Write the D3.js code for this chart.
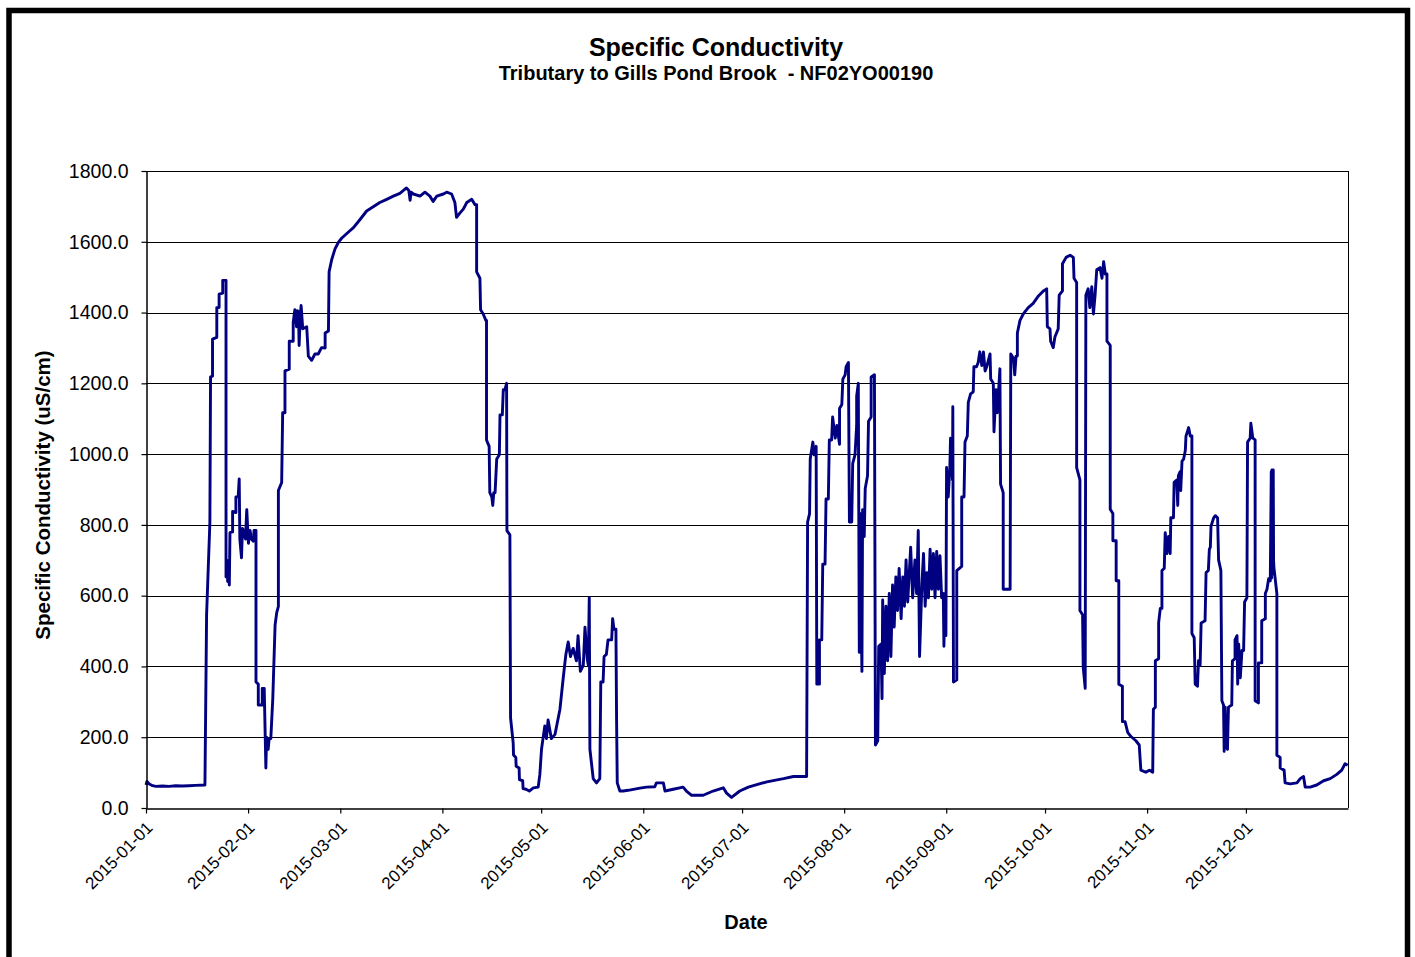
<!DOCTYPE html>
<html>
<head>
<meta charset="utf-8">
<script src="https://cdn.jsdelivr.net/npm/d3@7/dist/d3.min.js"></script>
<style>
  html, body { margin: 0; padding: 0; background: #fff; }
  svg { display: block; }
  text { font-family: "Liberation Sans", Arial, sans-serif; fill: #000; }
</style>
</head>
<body>
<svg id="chart" width="1415" height="957"></svg>
<script>
// ---------- DATA ----------
const chartTitle = "Specific Conductivity";
const chartSubtitle = "Tributary to Gills Pond Brook  - NF02YO00190";
const yAxisTitle = "Specific Conductivity (uS/cm)";
const xAxisTitle = "Date";
const yTickValues = [0, 200, 400, 600, 800, 1000, 1200, 1400, 1600, 1800];
const xTickLabels = ["2015-01-01","2015-02-01","2015-03-01","2015-04-01","2015-05-01","2015-06-01",
                     "2015-07-01","2015-08-01","2015-09-01","2015-10-01","2015-11-01","2015-12-01"];

// days elapsed since 2015-01-01 00:00 (fractional)
const dayOfYear = [
 0,0.3,1,2,3,5,7,9,11,13,15,17.9,18.4,19.4,19.6,20.2,20.2,21.5,21.5,22.2,22.2,23.3,23.3,24.3,24.3,24.6,24.8,25.0,25.3,25.5,26.3,26.3,27.3,27.3,28.0,28.3,28.5,29.0,29.3,29.6,30.2,30.6,31.1,31.6,32.0,32.6,32.8,33.4,33.4,34.1,34.1,35.3,35.3,35.9,36.4,36.6,37.1,37.4,37.9,38.5,39.2,39.7,40.2,40.2,41.2,41.5,42.2,42.2,43.5,43.5,44.7,44.7,45.2,45.7,46.0,46.3,46.5,46.8,47.1,47.6,48.8,49.3,50.3,51.3,52.3,53.3,54.4,54.4,55.4,55.6,56.4,57.4,58.4,59.4,61.4,
 63,65,67,69,71,73.1,75.1,77.1,79.1,79.8,80.2,80.5,81.2,83.2,84.7,86.2,87.2,88.3,90.3,91.3,92.8,93.8,94.3,95.3,96.4,97.4,98.9,99.9,100.4,100.4,101.4,101.6,102.4,103.2,103.4,103.4,104.2,104.4,105,105.3,105.6,106,106.5,107.3,107.5,108.2,108.5,109.0,109.5,109.6,110.5,110.7,111.5,111.6,112.3,112.4,113.3,113.4,114.4,114.5,115.4,116.4,117.6,119.1,119.6,120.1,121.1,121.6,122.1,123.1,124.2,
 125.7,126.7,127.5,128.2,128.9,129.7,130.7,131.2,131.9,132.8,133.3,134.0,134.3,134.6,134.8,135.8,136.8,137.8,138.1,138.8,139.1,139.8,140.3,141.4,141.7,142.1,142.7,142.9,143.1,143.9,144.9,146.4,150,152,154.5,155,157.1,157.6,160.1,163.1,164.1,165.7,169.2,172.2,175.3,176.3,177.8,180.3,182.9,
 188.5,193.6,196.6,200.6,200.9,201.5,201.7,202.5,202.9,203.5,203.7,204.5,204.5,205.2,205.5,206.2,206.5,207.2,207.5,208.2,208.5,209.3,209.8,210.6,210.6,211.3,211.6,212.3,212.6,213.3,213.6,214.3,214.6,215.3,215.8,215.8,216.3,216.6,216.8,217.4,217.6,218.1,218.4,219.1,219.4,220.2,220.2,221.2,221.5,222.2,222.5,223.2,223.5,223.7,224.2,224.7,225.2,225.7,226.2,226.7,227.2,227.7,228.2,228.7,229.3,229.8,230.3,230.8,231.3,232.2,232.8,233.5,234,234.5,234.9,235.6,236.1,236.6,237.1,237.6,238.1,238.6,239.1,239.6,240.1,240.6,241.1,241.6,242.1,242.3,242.6,242.9,243.1,
 243.6,244.1,244.3,244.9,245.0,245.2,246.2,246.2,247.7,247.7,248.4,248.7,249.4,249.7,250.4,251.2,251.4,252.2,252.7,253.2,253.8,254.3,254.8,255.3,256.3,256.5,257.3,257.5,258.1,258.5,259.3,259.5,260.3,260.3,262.4,262.6,263.4,263.8,264.2,264.6,264.6,265.4,266.4,267.9,269.4,271,272.5,273.5,273.7,274.5,274.7,275.5,276,277,277.3,278.3,278.3,279.4,280.6,281.6,281.8,282.6,282.6,283.6,283.6,284.4,284.6,285.2,285.4,286.1,286.6,287.2,287.7,288.2,288.7,289.7,290.3,290.8,291.3,291.8,291.8,292.8,292.8,293.6,293.6,294.6,294.6,295.4,295.4,296.5,296.5,297.3,298.1,299.1,300.6,301.6,302.1,303.6,304.7,305.7,
 305.9,306.5,306.5,307.5,307.5,308,308.5,308.5,309.2,309.5,310,310.5,311,311.2,312,312.2,313,313.3,313.5,314,314.2,314.6,315.1,315.6,315.8,316.6,317.1,317.6,317.6,318.3,318.6,319.3,319.6,320.1,320.4,321.6,321.9,322.6,322.9,323.2,323.4,324.2,324.7,325.4,325.7,326.4,326.7,327.2,327.4,327.7,328,328.4,328.7,329.7,329.9,330.7,330.7,331.3,331.5,331.8,332.3,332.8,333.3,333.6,334.3,334.5,335.3,335.5,336.1,336.8,336.8,337.8,337.8,338.8,338.8,339.9,339.9,340.4,340.9,341.4,341.7,341.8,341.9,342.0,342.1,342.2,342.3,342.4,342.5,343.4,343.4,344.4,344.4,345.6,345.9,347.4,349.5,350.5,351.5,352,353.5,355.5,357.6,359.6,361.6,363.1,364.1,364.9
];

const conductivity = [
 65,75,68,63,61,62,61,63,62,63,64,65,546,808,1218,1220,1325,1330,1414,1414,1452,1455,1491,1491,653,700,640,690,630,778,780,838,835,879,880,930,760,707,790,784,760,843,748,784,760,754,784,784,356,350,291,291,338,338,113,200,166,196,196,309,517,552,570,897,920,1117,1117,1235,1240,1319,1319,1372,1408,1360,1405,1402,1307,1380,1420,1354,1360,1277,1265,1283,1283,1301,1300,1342,1348,1515,1550,1580,1598,1610,1627,
 1640,1663,1687,1699,1711,1720,1729,1737,1752,1745,1717,1740,1735,1729,1740,1729,1714,1729,1735,1740,1735,1711,1669,1681,1693,1711,1720,1705,1705,1515,1497,1408,1396,1378,1378,1040,1022,891,879,855,891,891,986,998,1111,1111,1182,1182,1200,784,772,255,184,150,143,118,113,80,77,55,53,48,57,59,95,166,232,196,249,196,208,
 279,368,434,469,428,451,416,487,386,404,511,420,404,594,166,83,71,83,356,356,428,434,475,475,535,505,505,249,71,48,48,50,56,59,60,71,71,48,53,59,48,36,36,48,57,42,30,48,59,
 74,83,89,89,808,832,986,1034,998,1022,350,350,475,475,689,689,873,873,1040,1040,1105,1045,1081,1028,1129,1140,1212,1224,1247,1259,808,808,974,998,1081,1164,1200,440,832,386,843,767,903,939,1093,1105,1218,1224,178,190,457,463,309,588,380,570,416,606,428,630,511,653,558,677,535,653,570,701,582,737,594,701,606,784,428,630,719,570,665,594,731,618,719,594,725,618,713,594,606,457,606,487,962,
 879,962,1045,927,1134,356,362,671,683,879,879,1034,1051,1146,1170,1176,1247,1247,1259,1289,1250,1289,1235,1247,1283,1212,1200,1063,1182,1117,1241,915,891,618,618,1283,1271,1224,1277,1277,1342,1378,1396,1414,1426,1447,1461,1467,1360,1354,1319,1301,1331,1354,1449,1461,1538,1556,1562,1556,1497,1485,962,927,558,546,398,338,1449,1467,1414,1473,1396,1449,1521,1527,1497,1544,1509,1509,1319,1307,844,832,755,755,642,642,350,344,244,244,214,202,190,178,107,101,107,101,
 279,285,416,422,523,564,564,671,677,778,719,767,719,820,820,920,927,855,939,950,897,980,986,1010,1051,1075,1051,1051,493,481,350,344,416,404,523,529,665,671,731,737,796,820,826,820,701,671,303,291,160,285,180,166,285,291,416,422,475,487,350,463,368,445,445,582,594,1034,1045,1087,1045,1040,303,297,410,410,529,535,606,618,648,642,950,650,955,660,950,700,955,700,680,606,149,143,113,107,71,68,71,83,89,59,59,65,77,83,95,107,125,121
];

// ---------- LAYOUT ----------
const svg = d3.select("#chart");
const W = 1415, H = 957;
const plot = { left: 146, right: 1348, top: 171, bottom: 808 };

const startDate = new Date(2015, 0, 1);
const endDate = new Date(2016, 0, 1);
const toDate = d => new Date(startDate.getTime() + d * 86400000);
const points = dayOfYear.map((d, i) => ({ t: toDate(d), v: conductivity[i] }));

const x = d3.scaleTime().domain([startDate, endDate]).range([plot.left, plot.right]);
const y = d3.scaleLinear().domain([0, 1800]).range([plot.bottom, plot.top]);

// outer frame
svg.append("rect").attr("x", 0).attr("y", 0).attr("width", W).attr("height", H).attr("fill", "#fff");
svg.append("rect")
  .attr("x", 9).attr("y", 10.5).attr("width", 1398.5).attr("height", 1000)
  .attr("fill", "none").attr("stroke", "#000").attr("stroke-width", 5.5);

// gridlines
svg.append("g").selectAll("line")
  .data(yTickValues.filter(v => v > 0))
  .join("line")
  .attr("x1", plot.left).attr("x2", plot.right)
  .attr("y1", d => Math.round(y(d)) + 0.5).attr("y2", d => Math.round(y(d)) + 0.5)
  .attr("stroke", "#000").attr("stroke-width", 1);

// right border
svg.append("line")
  .attr("x1", plot.right + 0.5).attr("x2", plot.right + 0.5)
  .attr("y1", plot.top).attr("y2", plot.bottom)
  .attr("stroke", "#000").attr("stroke-width", 1);

// line
const line = d3.line().x(d => x(d.t)).y(d => y(d.v));
svg.append("path")
  .datum(points)
  .attr("d", line)
  .attr("fill", "none")
  .attr("stroke", "#000080")
  .attr("stroke-width", 2.9)
  .attr("stroke-linejoin", "round");

// y axis
const yAxis = d3.axisLeft(y).tickValues(yTickValues).tickFormat(d3.format(".1f"))
  .tickSize(5).tickSizeOuter(0).tickPadding(13);
const gy = svg.append("g").attr("transform", `translate(${plot.left + 0.5},0)`).call(yAxis);
gy.select(".domain").attr("stroke", "#000").attr("stroke-width", 1.5);
gy.selectAll(".tick line").attr("stroke", "#000").attr("stroke-width", 1.2);
gy.selectAll(".tick text").style("font-size", "19.5px").attr("fill", "#000");

// x axis
const xTickDates = xTickLabels.map(s => d3.timeParse("%Y-%m-%d")(s));
const xAxis = d3.axisBottom(x).tickValues(xTickDates).tickFormat(d3.timeFormat("%Y-%m-%d"))
  .tickSize(5).tickSizeOuter(0);
const gx = svg.append("g").attr("transform", `translate(0,${plot.bottom + 0.5})`).call(xAxis);
gx.select(".domain").attr("stroke", "#000").attr("stroke-width", 1.5);
gx.selectAll(".tick line").attr("stroke", "#000").attr("stroke-width", 1.2);
gx.selectAll(".tick text")
  .style("font-size", "17px")
  .attr("text-anchor", "end")
  .attr("x", 0).attr("y", 0).attr("dy", "0.35em")
  .attr("transform", "translate(3,16) rotate(-45)");

// top border
svg.append("line")
  .attr("x1", plot.left).attr("x2", plot.right + 1)
  .attr("y1", plot.top + 0.5).attr("y2", plot.top + 0.5)
  .attr("stroke", "#000").attr("stroke-width", 1);

// titles
svg.append("text").attr("x", 716).attr("y", 56).attr("text-anchor", "middle")
  .style("font-size", "25px").style("font-weight", "bold").text(chartTitle);
svg.append("text").attr("x", 716).attr("y", 80).attr("text-anchor", "middle")
  .style("font-size", "20px").style("font-weight", "bold").style("white-space", "pre")
  .text(chartSubtitle);
svg.append("text").attr("transform", "translate(50,495) rotate(-90)").attr("text-anchor", "middle")
  .style("font-size", "20.5px").style("font-weight", "bold").text(yAxisTitle);
svg.append("text").attr("x", 746).attr("y", 929).attr("text-anchor", "middle")
  .style("font-size", "20px").style("font-weight", "bold").text(xAxisTitle);
</script>
</body>
</html>
